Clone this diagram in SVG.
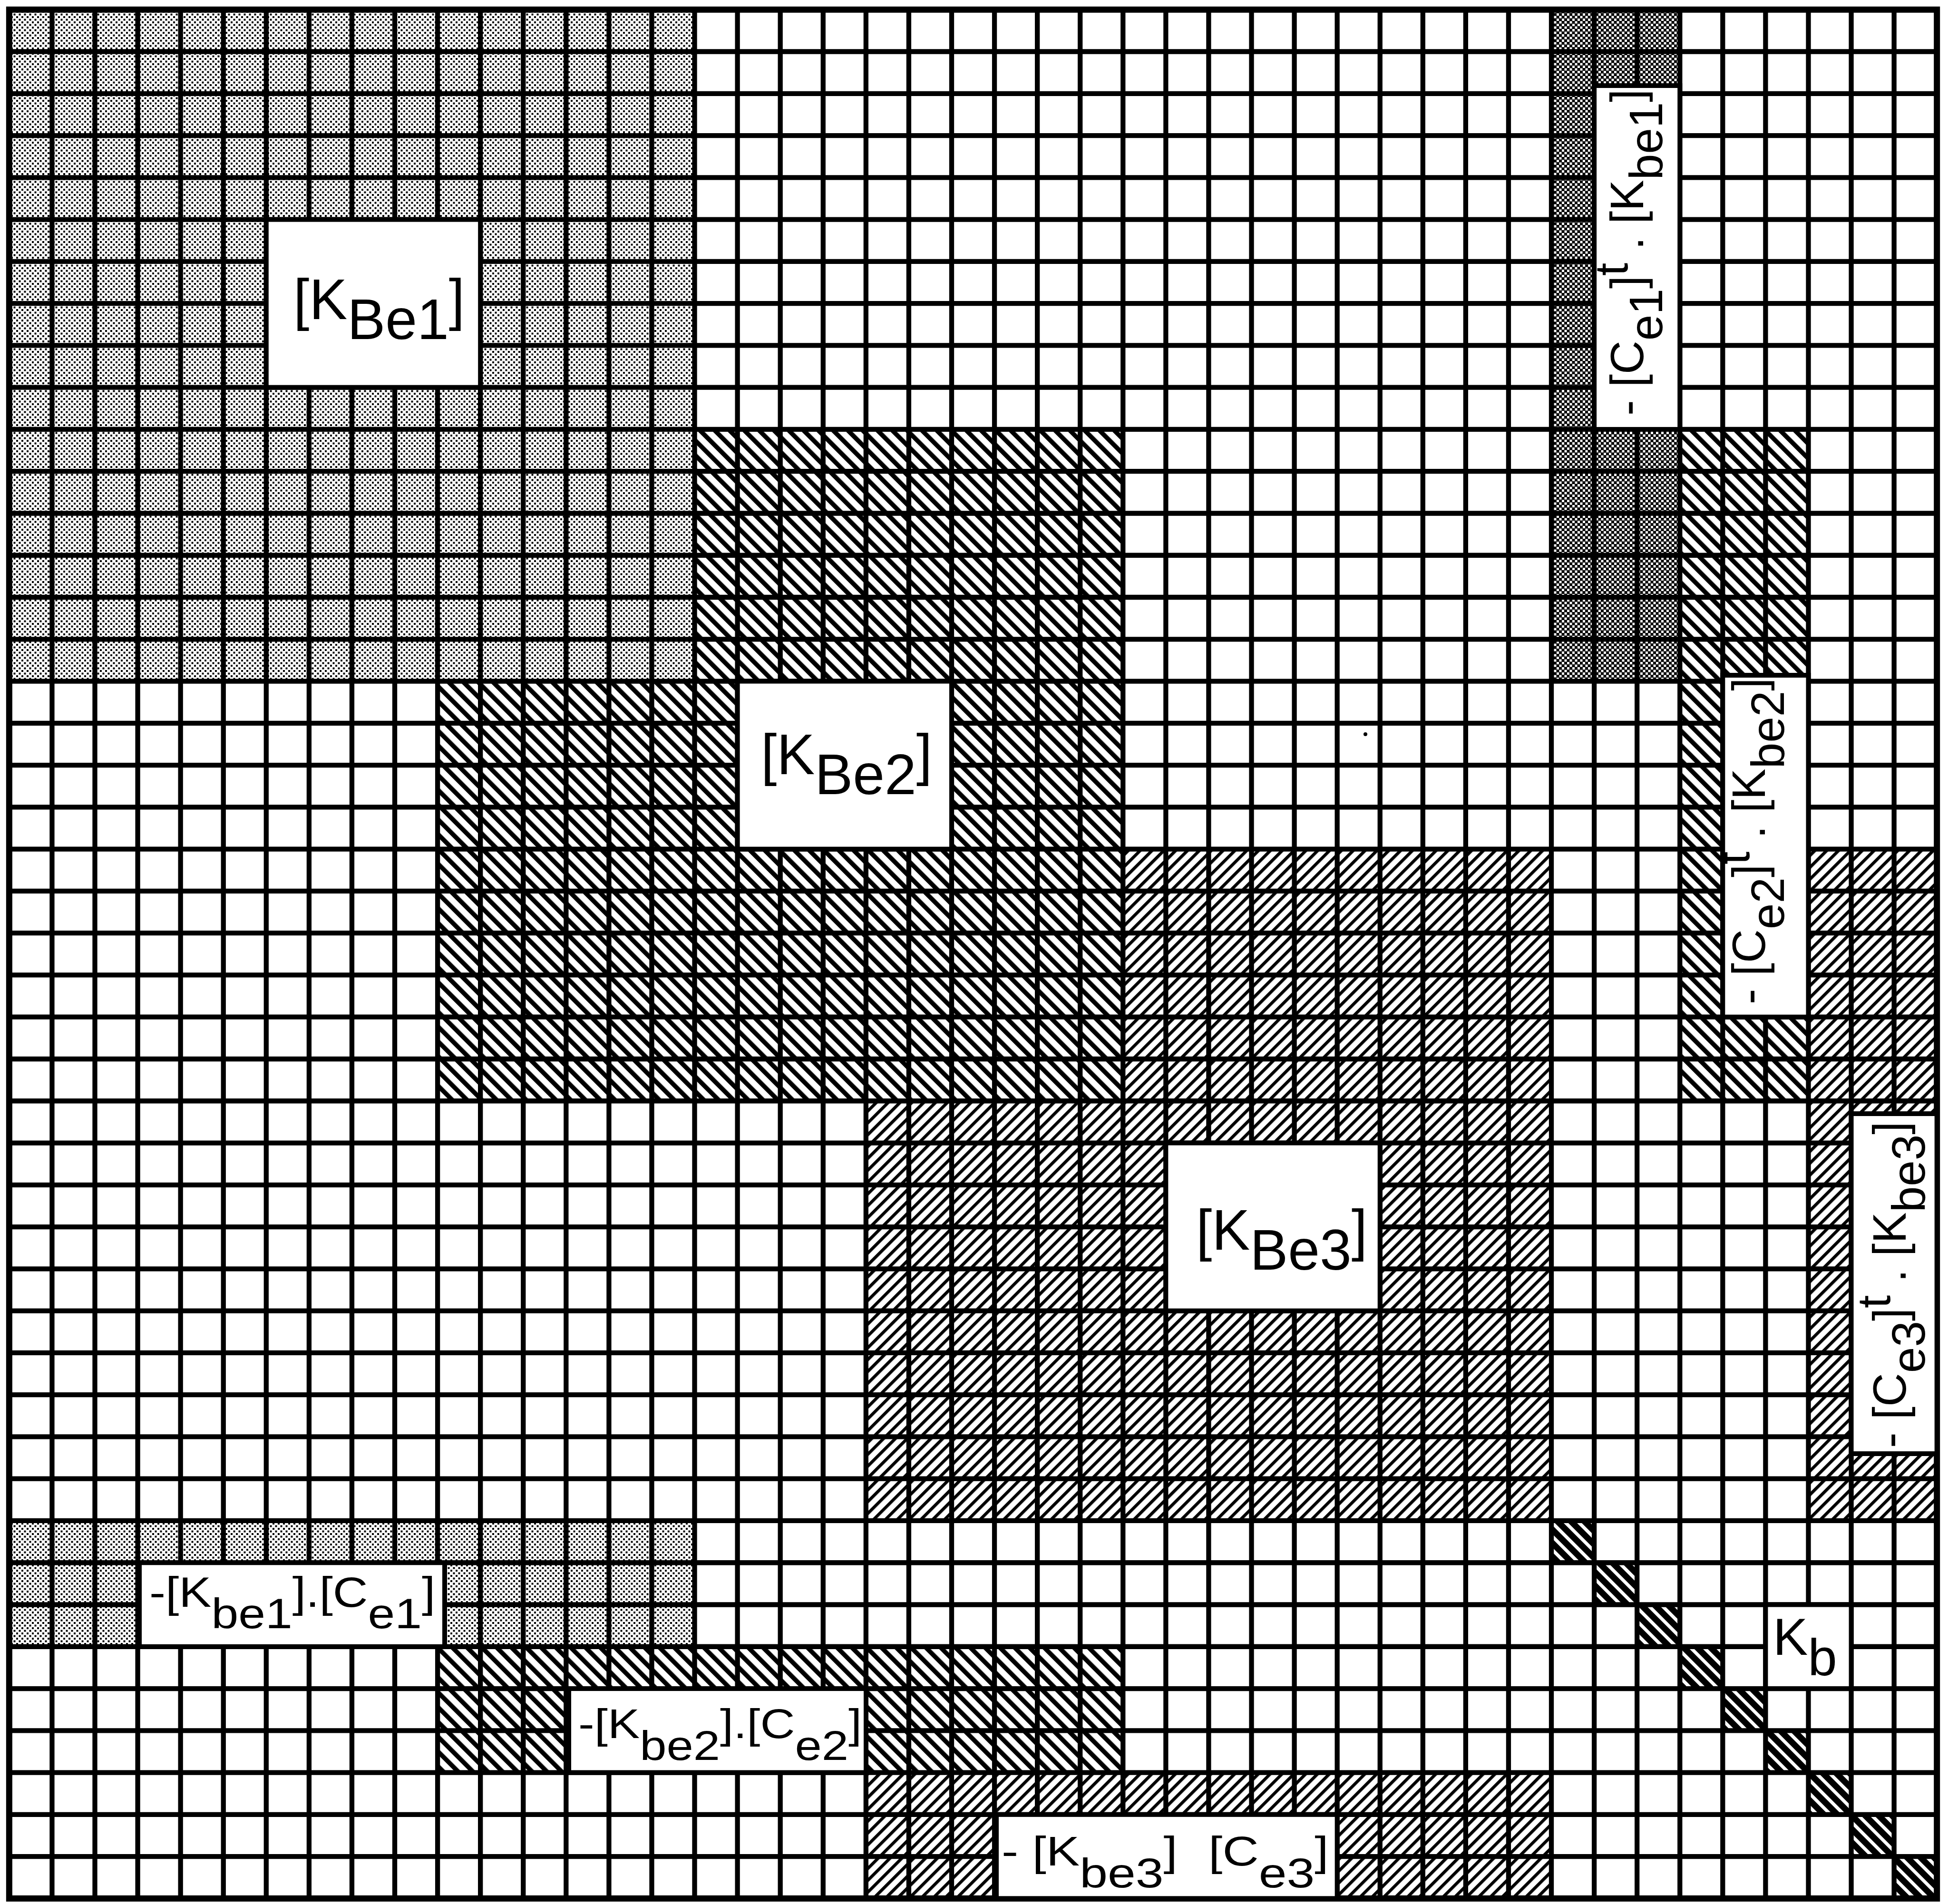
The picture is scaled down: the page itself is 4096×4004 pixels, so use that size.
<svg xmlns="http://www.w3.org/2000/svg" width="4096" height="4004" viewBox="0 0 4096 4004">
<style>
.grid{fill:none;stroke:#000;stroke-width:10.3}
.border{fill:none;stroke:#000;stroke-width:13}
.box{fill:#fff;stroke:#000;stroke-width:10}
.lbl{font-family:'Liberation Sans',Arial,Helvetica,sans-serif;fill:#000}
</style>
<defs>
<pattern id="stip" width="11" height="11" patternUnits="userSpaceOnUse"><rect width="11" height="11" fill="#fff"/><rect x="1" y="1" width="4" height="4" fill="#000"/><rect x="6.5" y="6.5" width="4" height="4" fill="#000"/></pattern>
<pattern id="dstip" width="11" height="11" patternUnits="userSpaceOnUse"><rect width="11" height="11" fill="#000"/><rect x="0.5" y="0.5" width="5" height="5" fill="#fff"/><rect x="6" y="6" width="5" height="5" fill="#fff"/></pattern>
<pattern id="hback" width="22" height="10" patternUnits="userSpaceOnUse" patternTransform="rotate(-45)"><rect width="22" height="10" fill="#fff"/><rect width="9.5" height="10" fill="#000"/></pattern>
<pattern id="hfwd" width="17.6" height="10" patternUnits="userSpaceOnUse" patternTransform="rotate(45)"><rect width="17.6" height="10" fill="#fff"/><rect width="6.5" height="10" fill="#000"/></pattern>
<pattern id="hkb" width="20" height="10" patternUnits="userSpaceOnUse" patternTransform="rotate(-45)"><rect width="20" height="10" fill="#000"/><rect width="7" height="10" fill="#fff"/></pattern>
</defs>
<rect width="4096" height="4004" fill="#fff"/>
<g id="KBe3-area"><rect x="1820.84" y="1785.64" width="1441.18" height="1412.32" fill="url(#hfwd)"/></g>
<g id="KBe2-area"><rect x="920.10" y="902.94" width="1441.18" height="1412.32" fill="url(#hback)"/></g>
<g id="KBe1-area"><rect x="19.36" y="20.24" width="1441.18" height="1412.32" fill="url(#stip)"/></g>
<g id="Ce1t-Kbe1-area"><rect x="3262.02" y="20.24" width="270.23" height="1412.32" fill="url(#dstip)"/></g>
<g id="Ce2t-Kbe2-area"><rect x="3532.25" y="902.94" width="270.22" height="1412.32" fill="url(#hback)"/></g>
<g id="Ce3t-Kbe3-area"><rect x="3802.47" y="1785.64" width="270.22" height="1412.32" fill="url(#hfwd)"/></g>
<g id="Kbe1-Ce1-area"><rect x="19.36" y="3197.96" width="1441.18" height="264.81" fill="url(#stip)"/></g>
<g id="Kbe2-Ce2-area"><rect x="920.10" y="3462.77" width="1441.18" height="264.81" fill="url(#hback)"/></g>
<g id="Kbe3-Ce3-area"><rect x="1820.84" y="3727.58" width="1441.18" height="264.81" fill="url(#hfwd)"/></g>
<g id="Kb-area" fill="url(#hkb)">
<rect x="3262.02" y="3197.96" width="90.07" height="88.27"/>
<rect x="3352.10" y="3286.23" width="90.07" height="88.27"/>
<rect x="3442.17" y="3374.50" width="90.07" height="88.27"/>
<rect x="3532.25" y="3462.77" width="90.07" height="88.27"/>
<rect x="3622.32" y="3551.04" width="90.07" height="88.27"/>
<rect x="3712.39" y="3639.31" width="90.07" height="88.27"/>
<rect x="3802.47" y="3727.58" width="90.07" height="88.27"/>
<rect x="3892.54" y="3815.85" width="90.07" height="88.27"/>
<rect x="3982.62" y="3904.12" width="90.07" height="88.27"/>
</g>
<g id="grid">
<path class="grid" d="M109.43 20.24V3992.39M199.51 20.24V3992.39M289.58 20.24V3992.39M379.66 20.24V3992.39M469.73 20.24V3992.39M559.80 20.24V3992.39M649.88 20.24V3992.39M739.95 20.24V3992.39M830.03 20.24V3992.39M920.10 20.24V3992.39M1010.17 20.24V3992.39M1100.25 20.24V3992.39M1190.32 20.24V3992.39M1280.40 20.24V3992.39M1370.47 20.24V3992.39M1460.54 20.24V3992.39M1550.62 20.24V3992.39M1640.69 20.24V3992.39M1730.77 20.24V3992.39M1820.84 20.24V3992.39M1910.91 20.24V3992.39M2000.99 20.24V3992.39M2091.06 20.24V3992.39M2181.14 20.24V3992.39M2271.21 20.24V3992.39M2361.28 20.24V3992.39M2451.36 20.24V3992.39M2541.43 20.24V3992.39M2631.51 20.24V3992.39M2721.58 20.24V3992.39M2811.65 20.24V3992.39M2901.73 20.24V3992.39M2991.80 20.24V3992.39M3081.88 20.24V3992.39M3171.95 20.24V3992.39M3262.02 20.24V3992.39M3352.10 20.24V3992.39M3442.17 20.24V3992.39M3532.25 20.24V3992.39M3622.32 20.24V3992.39M3712.39 20.24V3992.39M3802.47 20.24V3992.39M3892.54 20.24V3992.39M3982.62 20.24V3992.39
M19.36 108.51H4072.69M19.36 196.78H4072.69M19.36 285.05H4072.69M19.36 373.32H4072.69M19.36 461.59H4072.69M19.36 549.86H4072.69M19.36 638.13H4072.69M19.36 726.40H4072.69M19.36 814.67H4072.69M19.36 902.94H4072.69M19.36 991.21H4072.69M19.36 1079.48H4072.69M19.36 1167.75H4072.69M19.36 1256.02H4072.69M19.36 1344.29H4072.69M19.36 1432.56H4072.69M19.36 1520.83H4072.69M19.36 1609.10H4072.69M19.36 1697.37H4072.69M19.36 1785.64H4072.69M19.36 1873.91H4072.69M19.36 1962.18H4072.69M19.36 2050.45H4072.69M19.36 2138.72H4072.69M19.36 2226.99H4072.69M19.36 2315.26H4072.69M19.36 2403.53H4072.69M19.36 2491.80H4072.69M19.36 2580.07H4072.69M19.36 2668.34H4072.69M19.36 2756.61H4072.69M19.36 2844.88H4072.69M19.36 2933.15H4072.69M19.36 3021.42H4072.69M19.36 3109.69H4072.69M19.36 3197.96H4072.69M19.36 3286.23H4072.69M19.36 3374.50H4072.69M19.36 3462.77H4072.69M19.36 3551.04H4072.69M19.36 3639.31H4072.69M19.36 3727.58H4072.69M19.36 3815.85H4072.69M19.36 3904.12H4072.69"/>
<rect class="border" x="19.36" y="20.24" width="4053.33" height="3972.15"/>
<circle cx="2871" cy="1544" r="4" fill="#000"/>
</g>
<g id="KBe1-label"><rect class="box" x="559.80" y="461.59" width="450.37" height="353.08"/>
<text class="lbl" x="797" y="671" font-size="120" text-anchor="middle">[K<tspan dy="42">Be1</tspan><tspan dy="-42">]</tspan></text></g>
<g id="KBe2-label"><rect class="box" x="1550.62" y="1432.56" width="450.37" height="353.08"/>
<text class="lbl" x="1780" y="1628" font-size="120" text-anchor="middle">[K<tspan dy="42">Be2</tspan><tspan dy="-42">]</tspan></text></g>
<g id="KBe3-label"><rect class="box" x="2451.36" y="2403.53" width="450.37" height="353.08"/>
<text class="lbl" x="2695" y="2628" font-size="120" text-anchor="middle">[K<tspan dy="42">Be3</tspan><tspan dy="-42">]</tspan></text></g>
<g id="Ce1t-Kbe1-label"><rect class="box" x="3352.10" y="180" width="180.15" height="722.94"/>
<text class="lbl" font-size="98" transform="translate(3455,874) rotate(-90)">- [C<tspan dy="40">e1</tspan><tspan dy="-40">]</tspan><tspan dy="-33">t</tspan><tspan dy="33"> . [K</tspan><tspan dy="40">be1</tspan><tspan dy="-40">]</tspan></text></g>
<g id="Ce2t-Kbe2-label"><rect class="box" x="3622.32" y="1420" width="180.15" height="718.72"/>
<text class="lbl" font-size="98" transform="translate(3711,2112) rotate(-90)">- [C<tspan dy="40">e2</tspan><tspan dy="-40">]</tspan><tspan dy="-33">t</tspan><tspan dy="33"> . [K</tspan><tspan dy="40">be2</tspan><tspan dy="-40">]</tspan></text></g>
<g id="Ce3t-Kbe3-label"><rect class="box" x="3892.54" y="2342" width="180.15" height="715"/>
<text class="lbl" font-size="98" transform="translate(4007,3045) rotate(-90)">- [C<tspan dy="40">e3</tspan><tspan dy="-40">]</tspan><tspan dy="-33">t</tspan><tspan dy="33"> . [K</tspan><tspan dy="40">be3</tspan><tspan dy="-40">]</tspan></text></g>
<g id="Kbe1-Ce1-label"><rect class="box" x="293" y="3286.23" width="642" height="176.54"/>
<text class="lbl" font-size="88" transform="translate(314,3379) scale(1.16,1)">-[K<tspan dy="45">be1</tspan><tspan dy="-45">].[C</tspan><tspan dy="45">e1</tspan><tspan dy="-45">]</tspan></text></g>
<g id="Kbe2-Ce2-label"><rect class="box" x="1196" y="3551.04" width="625" height="176.54"/>
<text class="lbl" font-size="88" transform="translate(1216,3655) scale(1.15,1)">-[K<tspan dy="46">be2</tspan><tspan dy="-46">].[C</tspan><tspan dy="46">e2</tspan><tspan dy="-46">]</tspan></text></g>
<g id="Kbe3-Ce3-label"><rect class="box" x="2095" y="3815.85" width="716.65" height="176.54"/>
<text class="lbl" font-size="88" transform="translate(2106,3923) scale(1.2,1)">- [K<tspan dy="46">be3</tspan><tspan dy="-46">] </tspan><tspan dx="30">[C</tspan><tspan dy="46">e3</tspan><tspan dy="-46">]</tspan></text></g>
<g id="Kb-label"><rect class="box" x="3712.39" y="3374.50" width="180.15" height="176.54"/>
<text class="lbl" x="3728" y="3480" font-size="110">K<tspan dy="43">b</tspan></text></g>
</svg>
